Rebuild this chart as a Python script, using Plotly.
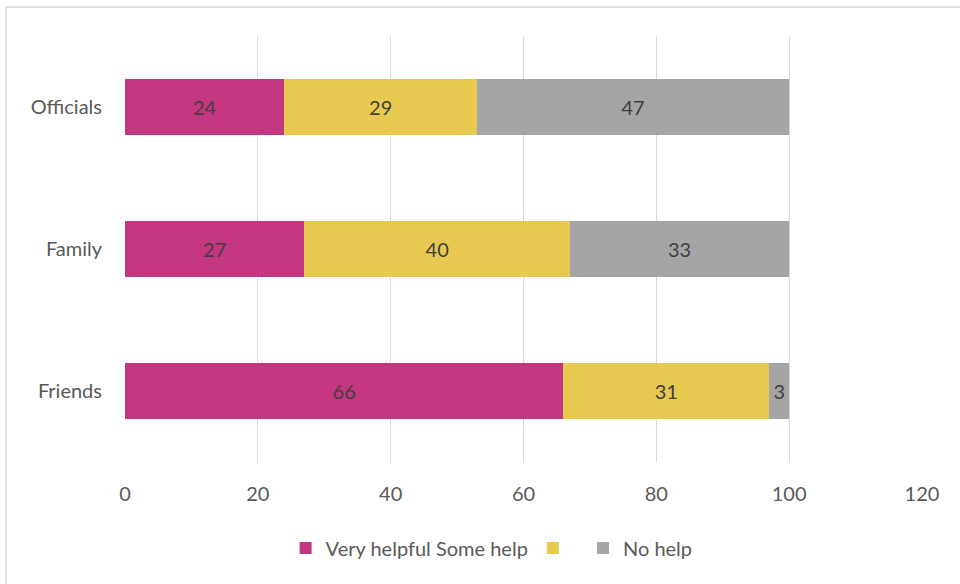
import plotly.graph_objects as go

categories = ["Friends", "Family", "Officials"]
very_helpful = [66, 27, 24]
some_help = [31, 40, 29]
no_help = [3, 33, 47]
legend_names = ["Very helpful Some help", " ", "No help"]
colors = ["#C4367F", "#E8C94F", "#A5A5A5"]
x_ticks = [0, 20, 40, 60, 80, 100, 120]

FONT = "Lato, 'Open Sans', sans-serif"
FS = 20

fig = go.Figure()
for name, vals, col in zip(legend_names, [very_helpful, some_help, no_help], colors):
    fig.add_trace(go.Bar(
        y=categories, x=vals, name=name, orientation="h",
        marker=dict(color=col, line=dict(width=0)),
        text=[str(v) for v in vals], textposition="inside",
        insidetextanchor="middle",
        textfont=dict(family=FONT, size=FS, color="#404040"),
        constraintext="none",
    ))

W, H = 960, 584
ml, mr, mt, mb = 125, 38, 36, 122
pw, ph = W - ml - mr, H - mt - mb

fig.update_layout(
    width=W, height=H,
    barmode="stack", bargap=0.6,
    margin=dict(l=ml, r=mr, t=mt, b=mb, pad=0),
    paper_bgcolor="white", plot_bgcolor="white",
    font=dict(family=FONT, size=FS, color="#595959"),
    uniformtext=dict(mode=False),
    xaxis=dict(range=[0, 120], tickvals=x_ticks, ticktext=[str(t) for t in x_ticks],
               showgrid=True, gridcolor="#D9D9D9", gridwidth=1,
               zeroline=False, showline=False, ticks="",
               tickfont=dict(size=FS, color="#595959"), ticklabelstandoff=18),
    yaxis=dict(showgrid=False, zeroline=False, showline=False, ticks="",
               tickfont=dict(size=FS, color="#595959"), ticklabelstandoff=22),
    legend=dict(orientation="h", x=0.46, xanchor="center", y=(ph + mt - 548) / ph,
                yanchor="middle",
                font=dict(size=FS, color="#595959"), traceorder="normal",
                itemwidth=30, itemsizing="constant"),
    showlegend=True,
)

# outer chart border
fig.add_shape(type="rect", xref="paper", yref="paper",
              x0=(6 - ml) / pw, x1=(W + 10 - ml) / pw,
              y0=-(H + 10 - (mt + ph)) / ph, y1=(mt + ph - 7) / ph,
              line=dict(color="#D9D9D9", width=1.5), fillcolor="rgba(0,0,0,0)", layer="below")

fig.write_html("out.html")
